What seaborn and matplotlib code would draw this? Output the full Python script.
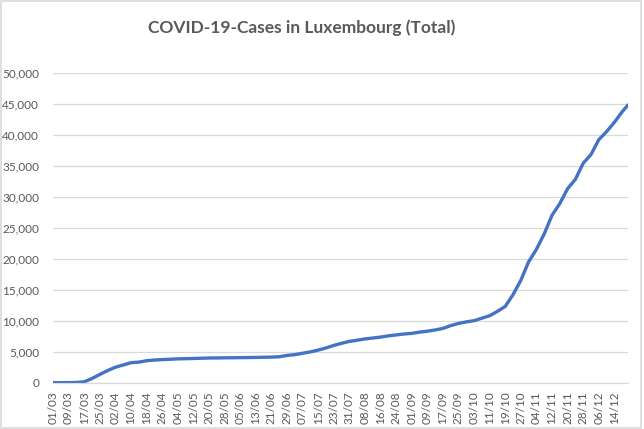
import pandas as pd
import matplotlib
matplotlib.use("Agg")
import matplotlib.pyplot as plt
import matplotlib.dates as mdates
from matplotlib.ticker import FuncFormatter, MultipleLocator
from matplotlib.patches import Rectangle
import seaborn as sns

# data (cumulative cases, 2020)
dates = [
    "2020-03-01", "2020-03-05", "2020-03-09", "2020-03-13", "2020-03-17", "2020-03-21",
    "2020-03-25", "2020-03-29", "2020-04-02", "2020-04-06", "2020-04-10", "2020-04-14",
    "2020-04-18", "2020-04-22", "2020-04-26", "2020-04-30", "2020-05-04", "2020-05-08",
    "2020-05-12", "2020-05-16", "2020-05-20", "2020-05-24", "2020-05-28", "2020-06-01",
    "2020-06-05", "2020-06-09", "2020-06-13", "2020-06-17", "2020-06-21", "2020-06-25",
    "2020-06-29", "2020-07-03", "2020-07-07", "2020-07-11", "2020-07-15", "2020-07-19",
    "2020-07-23", "2020-07-27", "2020-07-31", "2020-08-04", "2020-08-08", "2020-08-12",
    "2020-08-16", "2020-08-20", "2020-08-24", "2020-08-28", "2020-09-01", "2020-09-05",
    "2020-09-09", "2020-09-13", "2020-09-17", "2020-09-21", "2020-09-25", "2020-09-29",
    "2020-10-03", "2020-10-07", "2020-10-11", "2020-10-15", "2020-10-19", "2020-10-23",
    "2020-10-27", "2020-10-31", "2020-11-04", "2020-11-08", "2020-11-12", "2020-11-16",
    "2020-11-20", "2020-11-24", "2020-11-28", "2020-12-02", "2020-12-06", "2020-12-10",
    "2020-12-14", "2020-12-18", "2020-12-21",
]
cases = [
    0, 2, 3, 34, 140, 670,
    1330, 1950, 2490, 2850, 3220, 3310,
    3540, 3650, 3720, 3780, 3840, 3870,
    3900, 3940, 3980, 3990, 4010, 4020,
    4040, 4050, 4070, 4100, 4120, 4180,
    4390, 4520, 4740, 4960, 5250, 5600,
    6000, 6350, 6650, 6850, 7050, 7200,
    7350, 7550, 7700, 7850, 7950, 8150,
    8300, 8500, 8750, 9200, 9550, 9800,
    10000, 10400, 10800, 11500, 12300, 14200,
    16500, 19500, 21500, 24000, 27000, 28900,
    31300, 32800, 35400, 36800, 39200, 40500,
    42000, 43700, 44800,
]

title = "COVID-19-Cases in Luxembourg (Total)"

df = pd.DataFrame({"date": pd.to_datetime(dates), "cases": cases})

sns.set_theme(style="white")
plt.rcParams["font.family"] = ["Lato", "DejaVu Sans"]

text_color = "#595959"
grid_color = "#D9D9D9"

fig = plt.figure(figsize=(6.44, 4.29), dpi=100)
ax = fig.add_axes([0.0823, 0.108, 0.8929, 0.7225])

sns.lineplot(data=df, x="date", y="cases", ax=ax, color="#4472C4", linewidth=2.4)

ax.set_xlim(pd.Timestamp("2020-03-01"), pd.Timestamp("2020-12-21"))
ax.set_ylim(0, 50000)
ax.yaxis.set_major_locator(MultipleLocator(5000))
ax.yaxis.set_major_formatter(FuncFormatter(lambda v, p: f"{v:,.0f}"))

ticks = pd.date_range("2020-03-01", "2020-12-14", freq="8D")
ax.set_xticks(ticks)
ax.xaxis.set_major_formatter(mdates.DateFormatter("%d/%m"))

ax.grid(axis="y", color=grid_color, linewidth=0.9)
ax.set_axisbelow(True)
for side in ["left", "right", "top"]:
    ax.spines[side].set_visible(False)
ax.spines["bottom"].set_color(grid_color)
ax.spines["bottom"].set_linewidth(0.9)

ax.tick_params(axis="y", length=0, pad=10, labelsize=8.5, labelcolor=text_color)
ax.tick_params(axis="x", length=0, pad=6, labelsize=8.5, labelcolor=text_color, rotation=90)
ax.set_xlabel("")
ax.set_ylabel("")

fig.text(0.469, 0.935, title, ha="center", va="center", fontsize=12.5,
         color=text_color, fontweight="bold")

fig.patches.append(Rectangle((0.002, 0.003), 0.994, 0.994, transform=fig.transFigure,
                             fill=False, edgecolor=grid_color, linewidth=1.2))

fig.savefig("out.png", dpi=100)
